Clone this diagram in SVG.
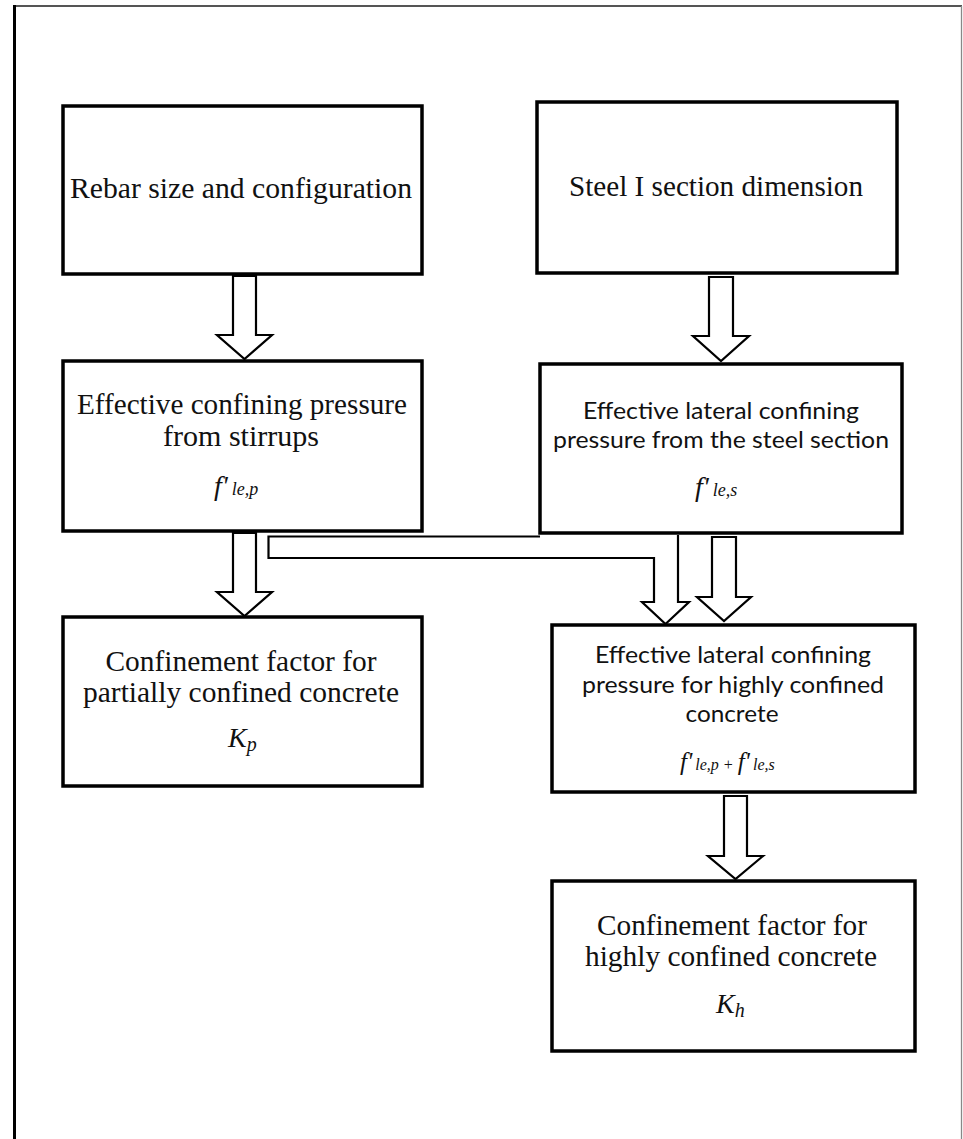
<svg xmlns="http://www.w3.org/2000/svg" width="963" height="1139" viewBox="0 0 963 1139">
<style>
.frame{fill:none}
.box{fill:#fff;stroke:#000;stroke-width:3.5}
.arr{fill:#fff;stroke:#000;stroke-width:2.2;stroke-linejoin:miter}
.ser{font-family:"Liberation Serif","Times New Roman",serif;font-size:29px;fill:#111;text-anchor:middle}
.san{font-family:Lato,"Open Sans","Liberation Sans",sans-serif;font-size:22.5px;fill:#111;text-anchor:middle}
.fm{font-family:"Liberation Serif","Times New Roman",serif;font-style:italic;fill:#111}
</style>
<rect width="963" height="1139" fill="#fff"/>
<g id="frame">
<line x1="13" y1="6" x2="962" y2="6" stroke="#555" stroke-width="2"/>
<line x1="14.5" y1="5" x2="14.5" y2="1139" stroke="#000" stroke-width="3"/>
<line x1="961.5" y1="6" x2="961.5" y2="1139" stroke="#888" stroke-width="1.3"/>
</g>
<g id="connectors">
<polygon class="arr" points="233,276 256,276 256,335 272,335 244.5,359 217,335 233,335"/>
<polygon class="arr" points="709,277 733,277 733,336 749,336 721,361 693,336 709,336"/>
<polygon class="arr" points="233,533 256,533 256,592 272,592 244.5,616 217,592 233,592"/>
<path class="arr" d="M540,536.5 H268.5 V558 H654 V602 H642 L665.5,624 L689,602 H678 V535"/>
<polygon class="arr" points="712,537 736,537 736,597 751,597 724,621 697,597 712,597"/>
<polygon class="arr" points="724,796 747,796 747,856 763,856 735.5,879 708,856 724,856"/>
</g>
<g id="node-rebar">
<rect class="box" x="63" y="106" width="359" height="168"/>
<text class="ser" x="241" y="198" textLength="342" lengthAdjust="spacingAndGlyphs">Rebar size and configuration</text>
</g>
<g id="node-steel">
<rect class="box" x="537" y="102" width="360" height="171"/>
<text class="ser" x="716" y="196" textLength="294" lengthAdjust="spacingAndGlyphs">Steel I section dimension</text>
</g>
<g id="node-stirrups">
<rect class="box" x="63" y="361" width="359" height="170"/>
<text class="ser" x="242" y="414" textLength="330" lengthAdjust="spacingAndGlyphs">Effective confining pressure</text>
<text class="ser" x="241" y="446" textLength="156" lengthAdjust="spacingAndGlyphs">from stirrups</text>
<text class="fm" x="214" y="495"><tspan font-size="28">f'</tspan><tspan font-size="18" dx="4">le,p</tspan></text>
</g>
<g id="node-steel-pressure">
<rect class="box" x="540" y="364" width="362" height="169"/>
<text class="san" x="721" y="419" textLength="276" lengthAdjust="spacingAndGlyphs">Effective lateral confining</text>
<text class="san" x="721" y="448" textLength="336" lengthAdjust="spacingAndGlyphs">pressure from the steel section</text>
<text class="fm" x="695" y="496"><tspan font-size="28">f'</tspan><tspan font-size="18" dx="4">le,s</tspan></text>
</g>
<g id="node-partial">
<rect class="box" x="63" y="617" width="359" height="169"/>
<text class="ser" x="241" y="671" textLength="271" lengthAdjust="spacingAndGlyphs">Confinement factor for</text>
<text class="ser" x="241" y="702" textLength="316" lengthAdjust="spacingAndGlyphs">partially confined concrete</text>
<text class="fm" x="228" y="747"><tspan font-size="28">K</tspan><tspan font-size="20" dy="4">p</tspan></text>
</g>
<g id="node-high-pressure">
<rect class="box" x="552" y="625" width="363" height="167"/>
<text class="san" x="733" y="663" textLength="276" lengthAdjust="spacingAndGlyphs">Effective lateral confining</text>
<text class="san" x="733" y="693" textLength="302" lengthAdjust="spacingAndGlyphs">pressure for highly confined</text>
<text class="san" x="732" y="722" textLength="93" lengthAdjust="spacingAndGlyphs">concrete</text>
<text class="fm" x="680" y="770"><tspan font-size="25">f'</tspan><tspan font-size="16" dx="3">le,p</tspan><tspan font-size="16"> + </tspan><tspan font-size="25">f'</tspan><tspan font-size="16" dx="3">le,s</tspan></text>
</g>
<g id="node-high">
<rect class="box" x="552" y="881" width="363" height="170"/>
<text class="ser" x="732" y="935" textLength="270" lengthAdjust="spacingAndGlyphs">Confinement factor for</text>
<text class="ser" x="731" y="966" textLength="292" lengthAdjust="spacingAndGlyphs">highly confined concrete</text>
<text class="fm" x="716" y="1013"><tspan font-size="28">K</tspan><tspan font-size="20" dy="4">h</tspan></text>
</g>
</svg>
